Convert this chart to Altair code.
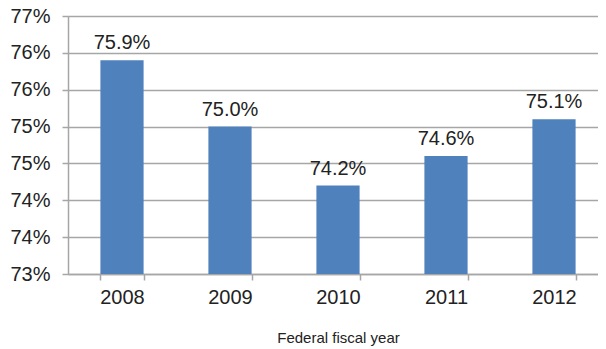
import altair as alt
import pandas as pd

years = ["2008", "2009", "2010", "2011", "2012"]
rates = [75.9, 75.0, 74.2, 74.6, 75.1]
labels = ["75.9%", "75.0%", "74.2%", "74.6%", "75.1%"]
y_ticks = [73.0, 73.5, 74.0, 74.5, 75.0, 75.5, 76.0, 76.5]
y_base = 73.0

df = pd.DataFrame({"year": years, "rate": rates, "label": labels, "base": [y_base] * len(years)})

FONT = "Liberation Sans"
GRID = "#a6a6a6"
TXT = "#222222"

x = alt.X(
    "year:N",
    sort=years,
    scale=alt.Scale(range=[0, 540], paddingInner=0.6, paddingOuter=0.3),
    axis=alt.Axis(
        title="Federal fiscal year",
        titleFont=FONT,
        titleFontSize=15,
        titleFontWeight="normal",
        titleColor=TXT,
        titlePadding=23,
        labelAngle=0,
        labelFont=FONT,
        labelFontSize=20,
        labelColor=TXT,
        labelPadding=7,
        tickBand="extent",
        tickSize=6,
        tickColor=GRID,
        tickWidth=1.5,
        domainColor=GRID,
        domainWidth=1.5,
        grid=False,
    ),
)

yscale = alt.Scale(domain=[73.0, 76.5], zero=False, nice=False)
y = alt.Y(
    "rate:Q",
    scale=yscale,
    axis=alt.Axis(
        title=None,
        values=y_ticks,
        labelExpr="round(datum.value) + '%'",
        labelFont=FONT,
        labelFontSize=20,
        labelColor=TXT,
        labelPadding=12,
        labelOverlap=False,
        tickSize=6,
        tickColor=GRID,
        tickWidth=1.5,
        domainColor=GRID,
        domainWidth=1.5,
        grid=True,
        gridColor=GRID,
        gridWidth=1.5,
    ),
)

bars = alt.Chart(df).mark_bar(color="#4f81bd").encode(x=x, y=y, y2="base:Q")
text = alt.Chart(df).mark_text(
    baseline="alphabetic", dy=-11, font=FONT, fontSize=20, color=TXT
).encode(x=x, y=y, text="label:N")

chart = (
    alt.layer(bars, text)
    .properties(
        width=530,
        height=258,
        autosize=alt.AutoSizeParams(type="none"),
        padding={"left": 60, "top": 8, "right": 0, "bottom": 75},
    )
    .configure_view(stroke=None)
    .configure(background="white")
)

chart.save("out.html", embed_options={"renderer": "svg", "actions": False})
